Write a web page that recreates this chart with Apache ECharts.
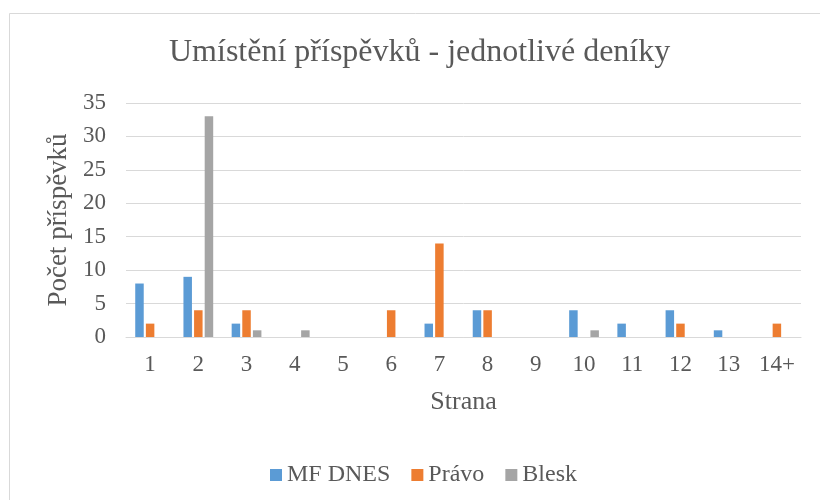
<!DOCTYPE html>
<html>
<head>
<meta charset="utf-8">
<script src="https://cdn.jsdelivr.net/npm/echarts@6/dist/echarts.min.js"></script>
<style>
  html, body { margin: 0; padding: 0; background: #fff; }
  #chart { width: 820px; height: 500px; }
</style>
</head>
<body>
<div id="chart"></div>
<script>
  // data
  var categories = ['1', '2', '3', '4', '5', '6', '7', '8', '9', '10', '11', '12', '13', '14+'];
  var mfDnes = [8, 9, 2, 0, 0, 0, 2, 4, 0, 4, 2, 4, 1, 0];
  var pravo  = [2, 4, 4, 0, 0, 4, 14, 4, 0, 0, 0, 2, 0, 2];
  var blesk  = [0, 33, 1, 1, 0, 0, 0, 0, 0, 1, 0, 0, 0, 0];

  var font = "'Liberation Serif', 'Times New Roman', serif";
  var txt = '#595959';

  var myChart = echarts.init(document.getElementById('chart'));

  function bar(name, data, color) {
    return {
      name: name,
      type: 'bar',
      data: data,
      barWidth: 8.5,
      barGap: '25%',
      itemStyle: { color: color }
    };
  }

  var option = {
    backgroundColor: '#fff',
    textStyle: { fontFamily: font },
    graphic: [{
      type: 'rect',
      shape: { x: 9.5, y: 13.5, width: 900, height: 600 },
      style: { fill: 'none', stroke: '#d9d9d9', lineWidth: 1 },
      silent: true
    }],
    title: {
      text: 'Umístění příspěvků - jednotlivé deníky',
      left: 169,
      top: 37,
      padding: 0,
      textStyle: { fontFamily: font, fontSize: 32, fontWeight: 'normal', color: txt }
    },
    legend: {
      data: ['MF DNES', 'Právo', 'Blesk'],
      left: 265,
      top: 458,
      icon: 'rect',
      itemWidth: 12,
      itemHeight: 12,
      itemGap: 21,
      textStyle: { fontFamily: font, fontSize: 24, color: txt }
    },
    grid: {
      left: 126,
      right: 19,
      top: 103,
      bottom: 163
    },
    xAxis: {
      type: 'category',
      data: categories,
      name: 'Strana',
      nameLocation: 'middle',
      nameGap: 52,
      nameTextStyle: { fontFamily: font, fontSize: 26, color: txt },
      axisLine: { lineStyle: { color: '#d9d9d9' } },
      axisTick: { show: false },
      axisLabel: { margin: 16, fontFamily: font, fontSize: 23, color: txt }
    },
    yAxis: {
      type: 'value',
      min: 0,
      max: 35,
      interval: 5,
      name: 'Počet příspěvků',
      nameLocation: 'middle',
      nameRotate: 90,
      nameGap: 52,
      nameTextStyle: { fontFamily: font, fontSize: 27, color: txt },
      axisLine: { show: false },
      axisTick: { show: false },
      splitLine: { lineStyle: { color: '#d9d9d9' } },
      axisLabel: { margin: 20, fontFamily: font, fontSize: 23, color: txt }
    },
    series: [
      bar('MF DNES', mfDnes, '#5b9bd5'),
      bar('Právo', pravo, '#ed7d31'),
      bar('Blesk', blesk, '#a5a5a5')
    ]
  };
  myChart.setOption(option);
</script>
</body>
</html>
